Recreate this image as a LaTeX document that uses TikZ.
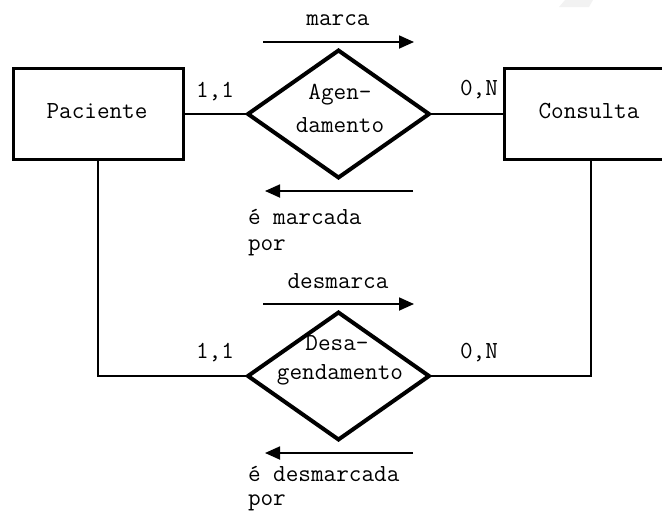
\documentclass[tikz,border=0pt]{standalone}
\usepackage{fontspec}
\usetikzlibrary{shapes.geometric,arrows.meta}
\begin{document}
\begin{tikzpicture}[x=1pt,y=-1pt,
  every node/.style={font=\ttfamily\fontsize{24.5}{28}\selectfont, inner sep=0pt, outer sep=0pt},
  entity/.style={draw, line width=3pt, minimum height=91pt},
  rel/.style={draw, diamond, line width=4pt, minimum width=181pt, minimum height=127pt},
  conn/.style={line width=1.4pt},
  flow/.style={line width=1.8pt, -{Triangle[length=15pt,width=13pt]}},
  lbl/.style={anchor=base},
  lblw/.style={anchor=base west}]
\useasboundingbox (0,0) rectangle (662,512);
\clip (0,0) rectangle (662,512);
\fill[gray!10] (565,0) -- (593,0) -- (589,7) -- (559,7) -- cycle;
% entities
\node[entity, minimum width=170pt] (pac) at (98,114) {};
\node[entity, minimum width=174pt] (con) at (591,114) {};
\node[lbl] (tpac) at (97,118) {Paciente};
\node[lbl] (tcon) at (589,118) {Consulta};
% relationships
\node[rel] (d1) at (338.5,114) {};
\node[rel] (d2) at (338.5,376) {};
\node[lbl] (t1a) at (340,99) {Agen-};
\node[lbl] (t1b) at (340,132) {damento};
\node[lbl] (t2a) at (337,350) {Desa-};
\node[lbl] (t2b) at (340,379) {gendamento};
% connectors
\draw[conn] (pac.east) -- (d1.west);
\draw[conn] (d1.east) -- (con.west);
\draw[conn] (pac.south) |- (d2.west);
\draw[conn] (con.south) |- (d2.east);
% cardinalities
\node[lbl] (c1) at (215,97) {1,1};
\node[lbl] (c2) at (479,95) {0,N};
\node[lbl] (c3) at (215,358) {1,1};
\node[lbl] (c4) at (479,358) {0,N};
% reading arrows
\coordinate (a1s) at (263,42);
\coordinate (a1e) at (414,42);
\coordinate (a2s) at (413,191);
\coordinate (a2e) at (265,191);
\coordinate (a3s) at (263,304);
\coordinate (a3e) at (414,304);
\coordinate (a4s) at (413,453);
\coordinate (a4e) at (265,453);
\draw[flow] (a1s) -- (a1e);
\draw[flow] (a2s) -- (a2e);
\draw[flow] (a3s) -- (a3e);
\draw[flow] (a4s) -- (a4e);
\node[lbl] (r1) at (338,25) {marca};
\node[lblw] (r2) at (248,224) {é marcada};
\node[lblw] (r2b) at (248,250) {por};
\node[lbl] (r3) at (338,288) {desmarca};
\node[lblw] (r4) at (248,481) {é desmarcada};
\node[lblw] (r4b) at (248,505) {por};
\end{tikzpicture}
\end{document}
